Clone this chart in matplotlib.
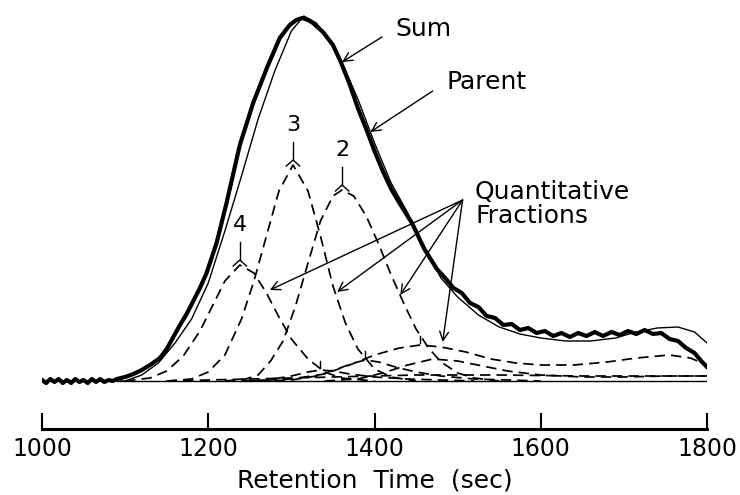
import matplotlib
matplotlib.use("Agg")
import matplotlib.pyplot as plt

# retention time (sec) and detector response (arbitrary units, baseline = 0)
parent_x = [1000, 1005, 1010, 1015, 1020, 1025, 1030, 1035, 1040, 1045, 1050, 1055, 1060, 1065,
            1070, 1075, 1080, 1085, 1090, 1100, 1110, 1120, 1130, 1142, 1150, 1158, 1166, 1174,
            1182, 1190, 1198, 1210, 1222, 1238, 1254, 1271, 1286, 1298, 1306, 1313, 1320, 1326,
            1338, 1350, 1360, 1370, 1380, 1391, 1400, 1410, 1420, 1430, 1445, 1460, 1475, 1485,
            1495, 1505, 1515, 1525, 1535, 1545, 1555, 1565, 1575, 1585, 1595, 1605, 1615, 1625,
            1635, 1645, 1655, 1665, 1675, 1685, 1695, 1705, 1715, 1725, 1735, 1745, 1755, 1765,
            1775, 1785, 1793, 1800]
parent_y = [1, -2, 2, -1, 2, -2, 1, -2, 2, -1, 1, -2, 2, -1,
            2, -1, 1, 0, 2, 4, 7, 11, 16, 23, 32, 44, 56, 67,
            80, 93, 108, 138, 178, 236, 278, 314, 343, 356, 361, 363, 361, 358,
            349, 336, 318, 297, 273, 250, 230, 210, 192, 178, 158, 132, 112, 103,
            93, 88, 78, 74, 65, 63, 56, 57, 51, 53, 48, 50, 45, 48,
            44, 48, 45, 49, 45, 49, 46, 50, 47, 51, 47, 48, 42, 40,
            33, 28, 20, 14]

sum_x = [1000, 1100, 1120, 1140, 1160, 1180, 1200, 1220, 1240, 1260, 1280, 1300, 1315, 1330,
         1345, 1360, 1380, 1400, 1420, 1440, 1460, 1480, 1500, 1525, 1550, 1575, 1600, 1630,
         1660, 1690, 1710, 1740, 1765, 1785, 1800]
sum_y = [0, 0, 6, 18, 38, 62, 98, 150, 205, 262, 310, 350, 365, 358,
         342, 320, 282, 238, 198, 168, 133, 103, 84, 66, 54, 47, 43, 40,
         40, 43, 48, 53, 54, 49, 38]

# quantitative fractions (dashed)
f4_x = [1100, 1130, 1150, 1170, 1190, 1205, 1220, 1238, 1255, 1270, 1285, 1300, 1320, 1340, 1360, 1400]
f4_y = [0, 3, 10, 25, 50, 75, 100, 116, 108, 88, 64, 42, 22, 9, 3, 0]

f3_x = [1150, 1180, 1200, 1220, 1240, 1255, 1270, 1285, 1302, 1320, 1335, 1350, 1365, 1380, 1400, 1420, 1450]
f3_y = [0, 2, 9, 26, 62, 100, 145, 190, 216, 190, 145, 95, 58, 32, 12, 4, 0]

f2_x = [1220, 1245, 1260, 1275, 1290, 1305, 1320, 1335, 1350, 1361, 1375, 1390, 1405, 1420,
        1435, 1450, 1465, 1480, 1500, 1520, 1550]
f2_y = [0, 2, 6, 20, 40, 75, 118, 160, 185, 191, 185, 165, 137, 106,
        78, 52, 33, 19, 8, 3, 0]

f1_x = [1250, 1300, 1340, 1370, 1400, 1430, 1455, 1480, 1510, 1540, 1570, 1600, 1640, 1680,
        1715, 1755, 1780, 1800]
f1_y = [0, 2, 7, 16, 26, 33, 36, 34, 29, 22, 18, 16, 16, 19,
        23, 26, 23, 16]

f5_x = [1260, 1300, 1330, 1355, 1375, 1389, 1405, 1425, 1450, 1480, 1520, 1560, 1600]
f5_y = [0, 1, 5, 12, 18, 21, 19, 14, 9, 5, 2, 1, 0]

f6_x = [1220, 1270, 1300, 1320, 1335, 1350, 1370, 1400, 1440, 1480, 1520]
f6_y = [0, 1, 5, 9, 11, 10, 7, 4, 2, 1, 0]

f7_x = [1340, 1380, 1410, 1440, 1470, 1500, 1530, 1560, 1600, 1650, 1700, 1750, 1800]
f7_y = [0, 2, 8, 16, 22, 20, 15, 10, 6, 4, 4, 5, 5]

f8_x = [1150, 1250, 1350, 1450, 1550, 1650, 1750, 1800]
f8_y = [0, 2, 4, 6, 6, 5, 5, 5]

base_x = [1090, 1800]
base_y = [0, 0]

xticks = [1000, 1200, 1400, 1600, 1800]

fig = plt.figure(figsize=(7.4, 4.95), dpi=100)
ax = fig.add_axes([42 / 740, 66 / 495, 665 / 740, 419 / 495])

dash = (0, (6, 3.5))
for fx, fy in [(f4_x, f4_y), (f3_x, f3_y), (f2_x, f2_y), (f1_x, f1_y),
               (f5_x, f5_y), (f6_x, f6_y), (f7_x, f7_y), (f8_x, f8_y)]:
    ax.plot(fx, fy, color="black", lw=1.25, linestyle=dash)

ax.plot(base_x, base_y, color="black", lw=1.0)
ax.plot(sum_x, sum_y, color="black", lw=1.0)
ax.plot(parent_x, parent_y, color="black", lw=3.0, solid_joinstyle="round")

# peak labels with small stems
for lab, px, py in [("3", 1302, 216), ("2", 1361, 191), ("4", 1238, 116)]:
    ax.plot([px, px], [py + 5, py + 23], color="black", lw=1.0)
    ax.plot([px - 8, px, px + 8], [py - 1, py + 5, py - 1], color="black", lw=1.0)
    ax.text(px, py + 40, lab, fontsize=16, ha="center", va="center")
for px, py in [(1335, 11), (1389, 21), (1455, 36)]:
    ax.plot([px, px], [py + 2, py + 9], color="black", lw=1.0)

ap = dict(arrowstyle="->", color="black", lw=1.0, shrinkA=0, shrinkB=0, mutation_scale=16)
ax.text(1425, 352, "Sum", fontsize=18, ha="left", va="center")
ax.annotate("", xy=(1361, 319), xytext=(1409, 344), arrowprops=ap)
ax.text(1487, 299, "Parent", fontsize=18, ha="left", va="center")
ax.annotate("", xy=(1395, 249), xytext=(1470, 290), arrowprops=ap)
ax.text(1521, 189, "Quantitative", fontsize=18, ha="left", va="center")
ax.text(1521, 165, "Fractions", fontsize=18, ha="left", va="center")
for hx, hy in [(1274, 91), (1355, 89), (1431, 86), (1482, 39)]:
    ax.annotate("", xy=(hx, hy), xytext=(1506, 181), arrowprops=ap)

ax.set_xlim(1000, 1800)
ax.set_ylim(-48, 371)
for s in ["top", "left", "right"]:
    ax.spines[s].set_visible(False)
ax.spines["bottom"].set_linewidth(2.2)
ax.set_yticks([])
ax.set_xticks(xticks)
ax.tick_params(axis="x", direction="in", length=11.5, width=1.5, labelsize=17, pad=6)
ax.set_xlabel("Retention  Time  (sec)", fontsize=18, labelpad=5)

fig.savefig("out.png", dpi=100)
